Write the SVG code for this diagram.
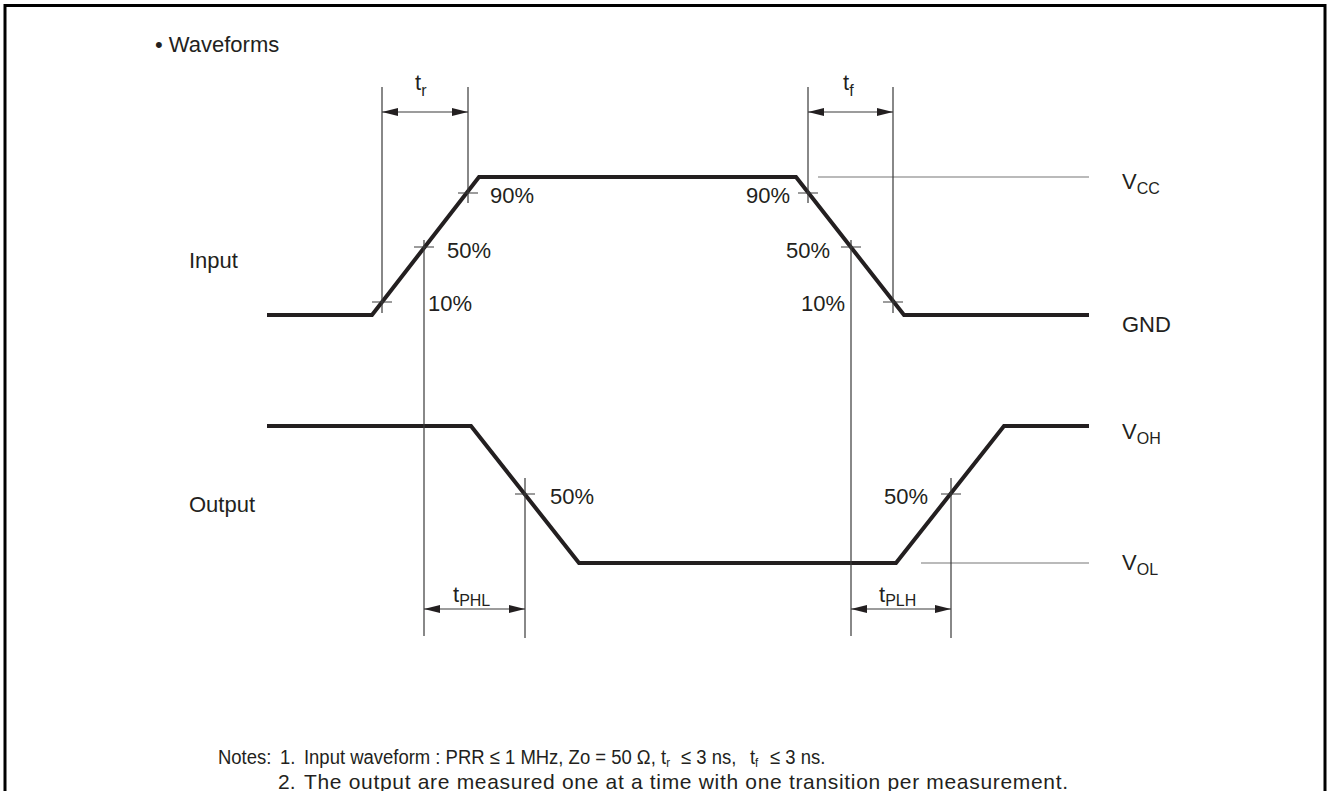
<svg xmlns="http://www.w3.org/2000/svg" width="1327" height="791" viewBox="0 0 1327 791">
<style>
text{font-family:"Liberation Sans",Arial,sans-serif;fill:#231f20}
.lbl{font-size:22px}
.sub{font-size:16px}
.note{font-size:21px}
.wave{fill:none;stroke:#231f20;stroke-width:4;stroke-linejoin:miter}
.thin{fill:none;stroke:#3a3a3a;stroke-width:1.2}
.ref{fill:none;stroke:#777;stroke-width:1.2}
.dim{fill:none;stroke:#3a3a3a;stroke-width:1.2;marker-start:url(#ah);marker-end:url(#ah)}
</style>
<defs>
<marker id="ah" viewBox="0 0 16 8" refX="16" refY="4" markerWidth="16" markerHeight="8" markerUnits="userSpaceOnUse" orient="auto-start-reverse">
<path d="M0,0 L16,4 L0,8 Z" fill="#231f20"/>
</marker>
</defs>
<g id="frame"><path d="M5,800 V5.5 H1325 V800" fill="none" stroke="#000" stroke-width="3"/></g>
<g id="title"><text class="lbl" x="155" y="52">• Waveforms</text></g>
<g id="labels">
<text class="lbl" x="189" y="268">Input</text>
<text class="lbl" x="189" y="512">Output</text>
<text class="lbl" x="1122" y="189">V<tspan class="sub" dy="5">CC</tspan></text>
<text class="lbl" x="1122" y="332">GND</text>
<text class="lbl" x="1122" y="439">V<tspan class="sub" dy="5">OH</tspan></text>
<text class="lbl" x="1122" y="570">V<tspan class="sub" dy="5">OL</tspan></text>
</g>
<g id="input-wave"><path class="wave" d="M267,315 H372 L479,177 H796 L904,315 H1089"/></g>
<g id="output-wave"><path class="wave" d="M267,426 H471 L579,563 H896 L1004,426 H1089"/></g>
<g id="connectors">
<path class="ref" d="M818,177 H1089 M921,563 H1089"/>
<path class="thin" d="M382,87 V313 M372,302 H392 M468,87 V203 M458,193 H478 M424,240 V636 M414,247 H434"/>
<path class="thin" d="M808,87 V203 M798,193 H818 M893,87 V313 M883,302 H903 M851,240 V636 M841,247 H861"/>
<path class="thin" d="M525,478 V638 M515,494 H535 M951,478 V638 M941,494 H961"/>
<path class="dim" d="M382,112 H468"/>
<path class="dim" d="M808,112 H893"/>
<path class="dim" d="M424,609 H525"/>
<path class="dim" d="M851,609 H951"/>
</g>
<g id="pct">
<text class="lbl" x="490" y="203">90%</text>
<text class="lbl" x="447" y="258">50%</text>
<text class="lbl" x="428" y="311">10%</text>
<text class="lbl" x="790" y="203" text-anchor="end">90%</text>
<text class="lbl" x="830" y="258" text-anchor="end">50%</text>
<text class="lbl" x="845" y="311" text-anchor="end">10%</text>
<text class="lbl" x="550" y="504">50%</text>
<text class="lbl" x="928" y="504" text-anchor="end">50%</text>
</g>
<g id="dimlabels">
<text class="lbl" x="415" y="90">t<tspan class="sub" dy="6">r</tspan></text>
<text class="lbl" x="843" y="90">t<tspan class="sub" dy="6">f</tspan></text>
<text class="lbl" x="453" y="602">t<tspan class="sub" dy="4">PHL</tspan></text>
<text class="lbl" x="879" y="602">t<tspan class="sub" dy="4">PLH</tspan></text>
</g>
<g id="notes">
<text class="note" transform="translate(218,764) scale(0.88,1)"><tspan x="0" y="0">Notes:</tspan><tspan x="70.5">1.</tspan><tspan x="97.7">Input waveform : PRR ≤ 1 MHz, Zo = 50 Ω,</tspan><tspan x="503.4">t</tspan><tspan dy="3" font-size="13">r</tspan><tspan x="526.1" dy="-3">≤ 3 ns,</tspan><tspan x="604.5">t</tspan><tspan dy="3" font-size="13">f</tspan><tspan x="627.3" dy="-3">≤ 3 ns.</tspan></text>
<text class="note" x="278" y="789">2.<tspan x="304" letter-spacing="0.68">The output are measured one at a time with one transition per measurement.</tspan></text>
</g>
</svg>
